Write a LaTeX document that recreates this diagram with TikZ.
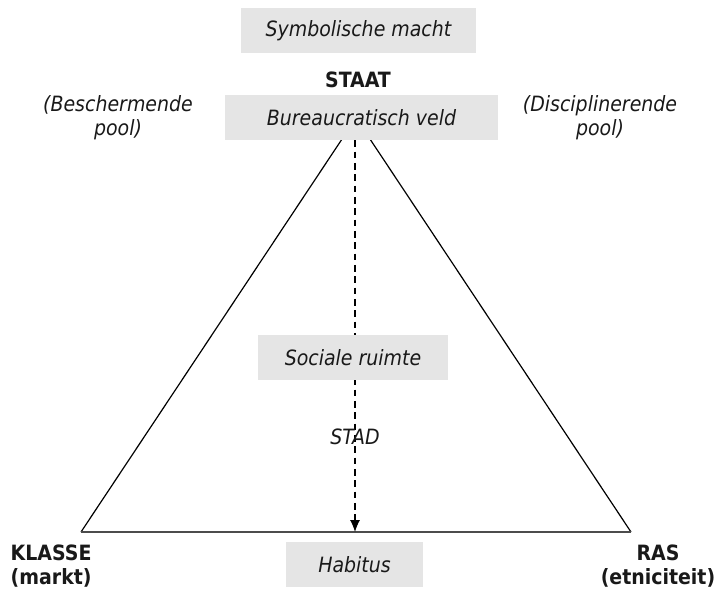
\documentclass[tikz,border=0pt]{standalone}
\usepackage{fontspec}
\setmainfont{DejaVu Sans Condensed}
\usepackage{tikz}
\usetikzlibrary{arrows.meta}
\newcommand\tekst{\fontsize{15.8}{18}\selectfont}

\begin{document}
\begin{tikzpicture}[x=0.75pt, y=-0.75pt,
  veld/.style={fill=black!10, font=\tekst\itshape, text=black!90, inner sep=0pt, minimum height=33.75pt},
  pool/.style={font=\tekst\itshape, text=black!90, align=center},
  hoek/.style={font=\tekst\bfseries, text=black!90}]
  \useasboundingbox (0,0) rectangle (714,592);
  \coordinate (top) at (356,118);
  \coordinate (links) at (81,532);
  \coordinate (rechts) at (631,532);
  \coordinate (voet) at (355,532);
  \draw [black, line width=0.9pt] (links)--(top)--(rechts);
  \draw [black!70, line width=1.5pt] (links)--(rechts);
  \node [veld, minimum width=176.25pt] (macht) at (358.5,30.5) {Symbolische macht};
  \node [hoek] (staat) at (358,80) {STAAT};
  \node [veld, minimum width=204.75pt] (bureau) at (361.5,117.5) {Bureaucratisch veld};
  \draw [black, line width=0.8pt, dash pattern=on 5pt off 3.5pt, -{Latex[length=9pt,width=7.5pt]}] (bureau.south -| voet) -- (voet);
  \node [veld, minimum width=142.5pt] (ruimte) at (353,357.5) {Sociale ruimte};
  \node [pool] (stad) at (355,437) {STAD};
  \node [veld, minimum width=102.75pt] (habitus) at (354.5,564.5) {Habitus};
  \node [pool] (bescherm) at (118,118) {(Beschermende\\pool)};
  \node [pool] (discipline) at (600,118) {(Disciplinerende\\pool)};
  \node [hoek, align=left, anchor=west] (klasse) at (6,566) {KLASSE\\(markt)};
  \node [hoek, align=center] (ras) at (658,566) {RAS\\(etniciteit)};
\end{tikzpicture}
\end{document}
